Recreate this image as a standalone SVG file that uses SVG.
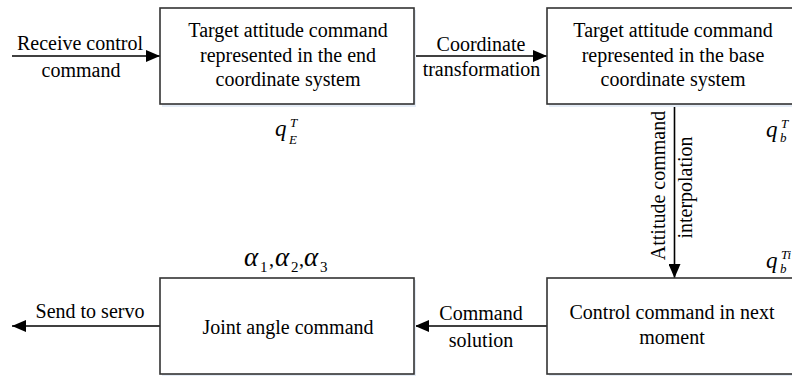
<svg xmlns="http://www.w3.org/2000/svg" width="792" height="376" viewBox="0 0 792 376">
  <defs>
    <marker id="arr" viewBox="0 0 14 12" refX="14" refY="6" markerWidth="14" markerHeight="12" markerUnits="userSpaceOnUse" orient="auto">
      <path d="M0,0 L14,6 L0,12 Z" fill="#000"/>
    </marker>
  </defs>
  <style>
    .box { fill: #fff; stroke: #333; stroke-width: 1.6; }
    .shadow { fill: #e4ecf6; stroke: none; }
    .t { font-family: "Liberation Serif", "Times New Roman", serif; font-size: 20px; fill: #000; text-anchor: middle; }
    .m { font-family: "Liberation Serif", "Times New Roman", serif; font-style: italic; fill: #000; }
    .sub { font-family: "Liberation Serif", "Times New Roman", serif; fill: #000; }
    .c { stroke: #000; stroke-width: 1.6; fill: none; marker-end: url(#arr); }
  </style>
  <rect width="792" height="376" fill="#fff"/>

  <g id="connectors">
    <line class="c" x1="12" y1="56" x2="160" y2="56"/>
    <line class="c" x1="414" y1="56" x2="547" y2="56"/>
    <line class="c" x1="674.5" y1="104" x2="674.5" y2="278"/>
    <line class="c" x1="547" y1="326" x2="415" y2="326"/>
    <line class="c" x1="160" y1="326" x2="12" y2="326"/>
    <text class="t" x="80" y="50">Receive control</text>
    <text class="t" x="81" y="77">command</text>
    <text class="t" x="481" y="50.5">Coordinate</text>
    <text class="t" x="481.5" y="76">transformation</text>
    <text class="t" transform="translate(665,185.5) rotate(-90)">Attitude command</text>
    <text class="t" transform="translate(692,187.5) rotate(-90)">interpolation</text>
    <text class="t" x="481" y="320">Command</text>
    <text class="t" x="481" y="346.5">solution</text>
    <text class="t" x="90" y="318">Send to servo</text>
  </g>

  <g id="node-end">
    <rect class="shadow" x="162" y="10" width="254" height="97"/>
    <rect class="box" x="160" y="8" width="254" height="96"/>
    <text class="t" x="288" y="37">Target attitude command</text>
    <text class="t" x="288" y="61.5">represented in the end</text>
    <text class="t" x="288" y="86">coordinate system</text>
    <text class="m" x="275" y="136" font-size="23">q</text>
    <text class="m" x="290" y="127" font-size="13">T</text>
    <text class="m" x="289" y="144" font-size="13">E</text>
  </g>

  <g id="node-base">
    <rect class="shadow" x="549" y="10" width="254" height="97"/>
    <rect class="box" x="547" y="8" width="254" height="96"/>
    <text class="t" x="673" y="37">Target attitude command</text>
    <text class="t" x="673" y="61.5">represented in the base</text>
    <text class="t" x="673" y="86">coordinate system</text>
    <text class="m" x="766" y="137" font-size="23">q</text>
    <text class="m" x="781" y="128" font-size="13">T</text>
    <text class="m" x="780" y="142" font-size="13">b</text>
    <text class="m" x="766" y="268" font-size="23">q</text>
    <text class="m" x="781" y="259" font-size="13">Ti</text>
    <text class="m" x="780" y="273" font-size="13">b</text>
  </g>

  <g id="node-joint">
    <rect class="shadow" x="162" y="280" width="254" height="97"/>
    <rect class="box" x="160" y="278" width="254" height="96"/>
    <text class="t" x="288" y="334">Joint angle command</text>
    <text class="m" font-size="27"><tspan x="244" y="266">α</tspan><tspan x="275" y="266">α</tspan><tspan x="304" y="266">α</tspan></text>
    <text class="sub" font-size="15"><tspan x="260" y="272">1</tspan><tspan x="291" y="272">2</tspan><tspan x="320" y="272">3</tspan></text>
    <text class="sub" font-size="20"><tspan x="269" y="266">,</tspan><tspan x="299" y="266">,</tspan></text>
  </g>

  <g id="node-next">
    <rect class="shadow" x="549" y="280" width="254" height="97"/>
    <rect class="box" x="547" y="278" width="254" height="96"/>
    <text class="t" x="672" y="319">Control command in next</text>
    <text class="t" x="672" y="344">moment</text>
  </g>
</svg>
